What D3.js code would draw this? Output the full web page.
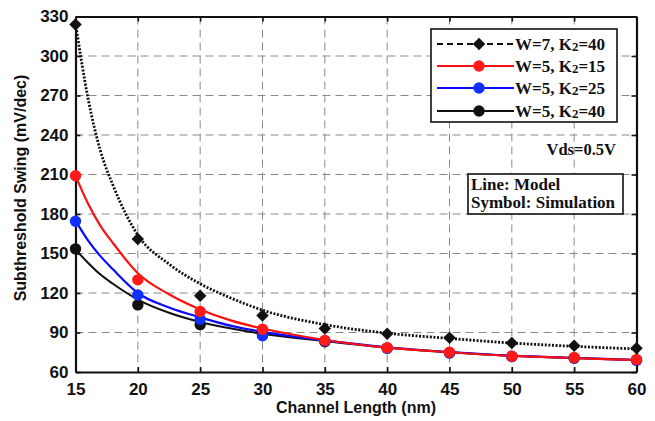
<!DOCTYPE html>
<html>
<head>
<meta charset="utf-8">
<script src="https://cdn.jsdelivr.net/npm/d3@7"></script>
<style>
  html, body { margin: 0; padding: 0; background: #fff; }
  svg { display: block; }
</style>
</head>
<body>
<svg id="chart" width="655" height="421"></svg>
<script>
// Channel lengths where simulation symbols sit (nm)
const simLengths = [15, 20, 25, 30, 35, 40, 45, 50, 55, 60];
// Simulated subthreshold swing (mV/dec)
const simW7K40 = [324, 161, 118, 103, 93, 89, 86, 82, 80, 78];
const simW5K15 = [209, 130, 106, 92.5, 84, 78.5, 75, 72, 71, 69.5];
const simW5K25 = [174.5, 118.5, 100, 87.5, 83.5, 78, 74.5, 71.8, 70.6, 69];
const simW5K40 = [153.5, 111, 96, 88.5, 83, 78, 74.5, 71.8, 70.5, 69];

// Analytical model curves, sampled along channel length (nm)
const modelLengths = [15, 16, 17, 18, 20, 22.5, 25, 27.5, 30, 35, 40, 45, 50, 55, 60];
const modelW7K40 = [325, 268, 228, 202, 164, 142, 127, 116, 107, 96, 89.5, 85.5, 82, 79.5, 77.5];
const modelW5K15 = [209, 188, 171, 158, 135, 119, 107.5, 99, 93, 84.3, 78.5, 75, 72.2, 70.6, 69];
const modelW5K25 = [175, 160, 148, 138, 120, 109, 101.5, 95, 90.5, 84, 78.8, 75.2, 72.4, 70.7, 69.2];
const modelW5K40 = [153, 143, 134, 127, 115, 105, 98, 93, 89, 83.5, 78.5, 75, 72.3, 70.6, 69];

// Axis ticks
const xTicks = [15, 20, 25, 30, 35, 40, 45, 50, 55, 60];
const yTicks = [60, 90, 120, 150, 180, 210, 240, 270, 300, 330];

// Legend entries
const legendLabels = [["W=7, K", "2", "=40"], ["W=5, K", "2", "=15"], ["W=5, K", "2", "=25"], ["W=5, K", "2", "=40"]];

const svg = d3.select("#chart");
const plotL = 75.5, plotR = 636.5, plotT = 16.5, plotB = 372;

const x = d3.scaleLinear().domain([15, 60]).range([plotL, plotR]);
const y = d3.scaleLinear().domain([60, 330]).range([plotB, plotT]);

// dashed grid
const grid = svg.append("g").attr("stroke", "#8a8a8a").attr("stroke-width", 1)
  .attr("stroke-dasharray", "8,5").attr("fill", "none");
xTicks.slice(1, -1).forEach(t => {
  grid.append("line").attr("x1", x(t)).attr("x2", x(t)).attr("y1", plotT).attr("y2", plotB);
});
yTicks.slice(1, -1).forEach(t => {
  grid.append("line").attr("x1", plotL).attr("x2", plotR).attr("y1", y(t)).attr("y2", y(t));
});

// axes with inward ticks
const axisFont = "'Liberation Sans', Arial, sans-serif";
const xAxis = svg.append("g").attr("transform", `translate(0,${plotB})`)
  .call(d3.axisBottom(x).tickValues(xTicks).tickSize(-5).tickPadding(11).tickSizeOuter(0));
const yAxis = svg.append("g").attr("transform", `translate(${plotL},0)`)
  .call(d3.axisLeft(y).tickValues(yTicks).tickSize(-5).tickPadding(7).tickSizeOuter(0));
const xTop = svg.append("g").attr("transform", `translate(0,${plotT})`)
  .call(d3.axisTop(x).tickValues(xTicks).tickSize(-5).tickFormat("").tickSizeOuter(0));
const yRight = svg.append("g").attr("transform", `translate(${plotR},0)`)
  .call(d3.axisRight(y).tickValues(yTicks).tickSize(-5).tickFormat("").tickSizeOuter(0));
[xAxis, yAxis, xTop, yRight].forEach(g => {
  g.select(".domain").attr("stroke", "#111").attr("stroke-width", 2.2);
  g.selectAll(".tick line").attr("stroke", "#111").attr("stroke-width", 1.6);
  g.selectAll("text").attr("font-family", axisFont).attr("font-size", 17)
    .attr("font-weight", "bold").attr("fill", "#111");
});

// axis titles
svg.append("text").attr("x", x(37.5)).attr("y", 413).attr("text-anchor", "middle")
  .attr("font-family", axisFont).attr("font-size", 16).attr("font-weight", "bold")
  .attr("fill", "#111").text("Channel Length (nm)");
svg.append("text").attr("transform", `translate(26,188) rotate(-90)`).attr("text-anchor", "middle")
  .attr("font-family", axisFont).attr("font-size", 16).attr("font-weight", "bold")
  .attr("fill", "#111").text("Subthreshold Swing (mV/dec)");

// model curves
const line = d3.line().x(d => x(d[0])).y(d => y(d[1])).curve(d3.curveMonotoneX);
const curves = [
  { vals: modelW5K40, color: "#111", dash: null, w: 2 },
  { vals: modelW5K25, color: "#0a0aff", dash: null, w: 2.2 },
  { vals: modelW5K15, color: "#ff1010", dash: null, w: 2.2 },
  { vals: modelW7K40, color: "#111", dash: "2,1.6", w: 2.8 }
];
curves.forEach(c => {
  svg.append("path").datum(modelLengths.map((l, i) => [l, c.vals[i]]))
    .attr("d", line).attr("fill", "none").attr("stroke", c.color)
    .attr("stroke-width", c.w).attr("stroke-dasharray", c.dash);
});

// simulation symbols
const circleSets = [
  { vals: simW5K40, color: "#111" },
  { vals: simW5K25, color: "#1030ff" },
  { vals: simW5K15, color: "#ff1a1a" }
];
circleSets.forEach(s => {
  svg.append("g").selectAll("circle").data(simLengths.map((l, i) => [l, s.vals[i]]))
    .join("circle").attr("cx", d => x(d[0])).attr("cy", d => y(d[1])).attr("r", 5.7)
    .attr("fill", s.color);
});
// square diamond: a square turned 45 degrees
const diamond = d3.symbol().type(d3.symbolSquare).size(78);
svg.append("g").selectAll("path").data(simLengths.map((l, i) => [l, simW7K40[i]]))
  .join("path").attr("d", diamond)
  .attr("transform", d => `translate(${x(d[0])},${y(d[1])}) rotate(45)`)
  .attr("fill", "#111");

// legend
const serif = "'Liberation Serif', 'Times New Roman', serif";
svg.append("rect").attr("x", 431).attr("y", 29).attr("width", 186).attr("height", 93)
  .attr("fill", "#fff").attr("stroke", "#111").attr("stroke-width", 1.6);
const legStyles = [
  { color: "#111", dash: "6,4", marker: "diamond", fill: "#111" },
  { color: "#ff1010", dash: null, marker: "circle", fill: "#ff1a1a" },
  { color: "#0a0aff", dash: null, marker: "circle", fill: "#1030ff" },
  { color: "#111", dash: null, marker: "circle", fill: "#111" }
];
const legY = [44, 66, 88, 111];
legStyles.forEach((st, i) => {
  const cy = legY[i];
  svg.append("line").attr("x1", 437).attr("x2", 514).attr("y1", cy).attr("y2", cy)
    .attr("stroke", st.color).attr("stroke-width", 1.8).attr("stroke-dasharray", st.dash);
  if (st.marker === "diamond") {
    svg.append("path").attr("d", diamond).attr("transform", `translate(479,${cy}) rotate(45)`).attr("fill", st.fill);
  } else {
    svg.append("circle").attr("cx", 479).attr("cy", cy).attr("r", 5.7).attr("fill", st.fill);
  }
  const t = svg.append("text").attr("x", 515).attr("y", cy + 6)
    .attr("font-family", serif).attr("font-size", 17).attr("font-weight", "bold").attr("fill", "#111");
  t.append("tspan").text(legendLabels[i][0]);
  t.append("tspan").attr("font-size", 13).attr("dy", 1).text(legendLabels[i][1]);
  t.append("tspan").attr("dy", -1).text(legendLabels[i][2]);
});

// operating condition
svg.append("text").attr("x", 616).attr("y", 155).attr("text-anchor", "end")
  .attr("font-family", serif).attr("font-size", 16.5).attr("font-weight", "bold")
  .attr("fill", "#111").text("Vds=0.5V");

// note box
svg.append("rect").attr("x", 468).attr("y", 174).attr("width", 155).attr("height", 40)
  .attr("fill", "#fff").attr("stroke", "#111").attr("stroke-width", 1.6);
["Line: Model", "Symbol: Simulation"].forEach((s, i) => {
  svg.append("text").attr("x", 471).attr("y", 190 + i * 18)
    .attr("font-family", serif).attr("font-size", 17).attr("font-weight", "bold")
    .attr("fill", "#111").text(s);
});
</script>
</body>
</html>
